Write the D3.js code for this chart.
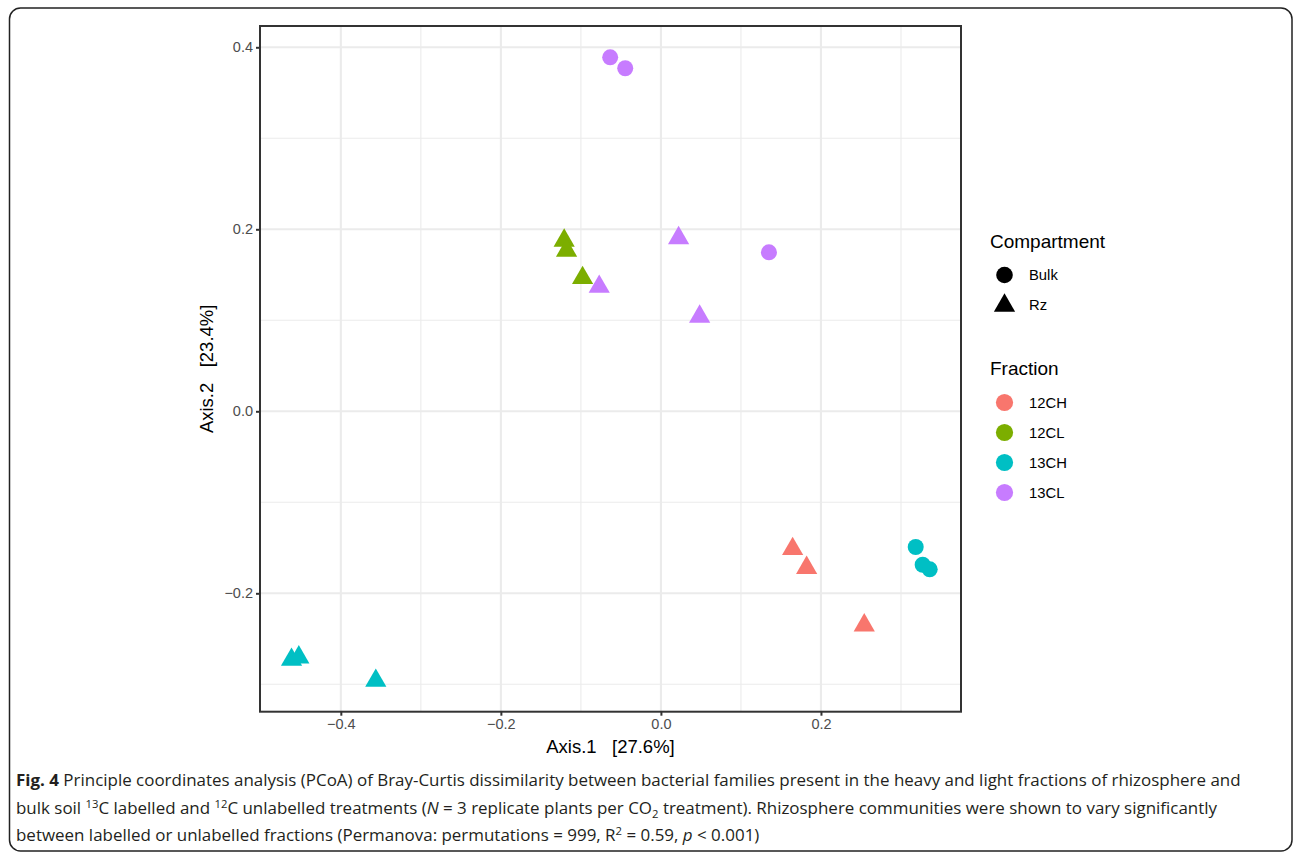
<!DOCTYPE html>
<html><head><meta charset="utf-8">
<script src="https://cdn.jsdelivr.net/npm/d3@7"></script>
<style>
html,body{margin:0;padding:0;background:#fff;}
svg{display:block;}
text{font-family:"Liberation Sans",Arial,Helvetica,sans-serif;}
</style></head>
<body>
<svg id="chart" width="1293" height="852"></svg>
<script>
// ---- data ----
const fractions = ["12CH", "12CL", "13CH", "13CL"];
const fractionColors = ["#F8766D", "#7CAE00", "#00BFC4", "#C77CFF"];
const compartments = ["Bulk", "Rz"];
const pointFraction    = ["12CH","12CH","12CH","12CL","12CL","12CL","13CH","13CH","13CH","13CH","13CH","13CH","13CL","13CL","13CL","13CL","13CL","13CL"];
const pointCompartment = ["Rz","Rz","Rz","Rz","Rz","Rz","Bulk","Bulk","Bulk","Rz","Rz","Rz","Bulk","Bulk","Bulk","Rz","Rz","Rz"];
const axis1 = [0.1646, 0.1821, 0.2541, -0.1209, -0.1179, -0.0979, 0.3184, 0.3271, 0.3359, -0.4616, -0.4525, -0.3563, -0.0634, -0.0446, 0.1350, -0.0771, 0.0221, 0.0484];
const axis2 = [-0.1512, -0.1720, -0.2352, 0.1876, 0.1766, 0.1465, -0.1491, -0.1686, -0.1736, -0.2730, -0.2704, -0.2960, 0.3890, 0.3770, 0.1747, 0.1370, 0.1904, 0.1041];
const xTicks = [-0.4, -0.2, 0.0, 0.2];
const yTicks = [-0.2, 0.0, 0.2, 0.4];
const xMinor = [-0.3, -0.1, 0.1, 0.3];
const yMinor = [-0.3, -0.1, 0.1, 0.3];
const xTitle = "Axis.1   [27.6%]";
const yTitle = "Axis.2   [23.4%]";

const svg = d3.select("#chart");

// outer rounded frame
svg.append("rect").attr("x", 9.5).attr("y", 8).attr("width", 1282.5).attr("height", 843)
  .attr("rx", 11).attr("fill", "none").attr("stroke", "#222").attr("stroke-width", 1.5);

const P = {l: 260, r: 961, t: 26, b: 711.7};
const x = d3.scaleLinear().domain([-0.501, 0.375]).range([P.l, P.r]);
const y = d3.scaleLinear().domain([0.4234, -0.3301]).range([P.t, P.b]);
const color = d3.scaleOrdinal().domain(fractions).range(fractionColors);
const fmt = d3.format(".1f");

// grid
const g = svg.append("g");
g.selectAll(".xmin").data(xMinor).join("line")
  .attr("x1", d => x(d)).attr("x2", d => x(d)).attr("y1", P.t).attr("y2", P.b)
  .attr("stroke", "#ebebeb").attr("stroke-width", 1.1);
g.selectAll(".ymin").data(yMinor).join("line")
  .attr("y1", d => y(d)).attr("y2", d => y(d)).attr("x1", P.l).attr("x2", P.r)
  .attr("stroke", "#ebebeb").attr("stroke-width", 1.1);
g.selectAll(".xmaj").data(xTicks).join("line")
  .attr("x1", d => x(d)).attr("x2", d => x(d)).attr("y1", P.t).attr("y2", P.b)
  .attr("stroke", "#ebebeb").attr("stroke-width", 2.1);
g.selectAll(".ymaj").data(yTicks).join("line")
  .attr("y1", d => y(d)).attr("y2", d => y(d)).attr("x1", P.l).attr("x2", P.r)
  .attr("stroke", "#ebebeb").attr("stroke-width", 2.1);

// points
const pts = axis1.map((v, i) => ({x: v, y: axis2[i], f: pointFraction[i], c: pointCompartment[i]}));
const tri = d3.symbol().type(d3.symbolTriangle).size(195);
const pg = svg.append("g");
pts.forEach(p => {
  if (p.c === "Bulk") {
    pg.append("circle").attr("cx", x(p.x)).attr("cy", y(p.y)).attr("r", 8).attr("fill", color(p.f));
  } else {
    pg.append("path").attr("d", tri()).attr("transform", `translate(${x(p.x)},${y(p.y)})`).attr("fill", color(p.f));
  }
});

// panel border
svg.append("rect").attr("x", P.l).attr("y", P.t).attr("width", P.r - P.l).attr("height", P.b - P.t)
  .attr("fill", "none").attr("stroke", "#333").attr("stroke-width", 2);

// axes
const xa = svg.append("g").attr("transform", `translate(0,${P.b})`)
  .call(d3.axisBottom(x).tickValues(xTicks).tickFormat(fmt).tickSize(4).tickPadding(3));
const ya = svg.append("g").attr("transform", `translate(${P.l},0)`)
  .call(d3.axisLeft(y).tickValues(yTicks).tickFormat(fmt).tickSize(4).tickPadding(3));
[xa, ya].forEach(a => {
  a.select(".domain").remove();
  a.selectAll(".tick line").attr("stroke", "#333").attr("stroke-width", 2);
  a.selectAll(".tick text").attr("fill", "#4d4d4d").style("font-size", "14.5px")
    .style("font-family", '"Liberation Sans",Arial,sans-serif');
});

// axis titles
svg.append("text").attr("x", (P.l + P.r) / 2).attr("y", 753).attr("text-anchor", "middle")
  .style("font-size", "18.5px").style("white-space", "pre").attr("fill", "#000").text(xTitle);
svg.append("text").attr("transform", `translate(213,${(P.t + P.b) / 2}) rotate(-90)`).attr("text-anchor", "middle")
  .style("font-size", "18.5px").style("white-space", "pre").attr("fill", "#000").text(yTitle);

// legends
const lg = svg.append("g");
lg.append("text").attr("x", 990).attr("y", 248).style("font-size", "19px").text("Compartment");
compartments.forEach((c, i) => {
  const cy = 275 + i * 30;
  if (c === "Bulk") lg.append("circle").attr("cx", 1004.5).attr("cy", cy).attr("r", 8.3).attr("fill", "#000");
  else lg.append("path").attr("d", tri()).attr("transform", `translate(1004.5,${cy + 0.5})`).attr("fill", "#000");
  lg.append("text").attr("x", 1029).attr("y", cy + 5.3).style("font-size", "14.8px").text(c);
});
lg.append("text").attr("x", 990).attr("y", 375).style("font-size", "19px").text("Fraction");
fractions.forEach((f, i) => {
  const cy = 402.5 + i * 30;
  lg.append("circle").attr("cx", 1004.5).attr("cy", cy).attr("r", 8.6).attr("fill", color(f));
  lg.append("text").attr("x", 1029).attr("y", cy + 5.3).style("font-size", "14.8px").text(f);
});

// caption
const capFont = '"Open Sans","Noto Sans",sans-serif';
const capLines = [
  [["b", "Fig. 4"], ["n", " Principle coordinates analysis (PCoA) of Bray-Curtis dissimilarity between bacterial families present in the heavy and light fractions of rhizosphere and"]],
  [["n", "bulk soil "], ["sup", "13"], ["n", "C labelled and "], ["sup", "12"], ["n", "C unlabelled treatments ("], ["i", "N"], ["n", " = 3 replicate plants per CO"], ["sub", "2"], ["n", " treatment). Rhizosphere communities were shown to vary significantly"]],
  [["n", "between labelled or unlabelled fractions (Permanova: permutations = 999, R"], ["sup", "2"], ["n", " = 0.59, "], ["i", "p"], ["n", " < 0.001)"]]
];
const capBase = [786, 814, 841];
const capGroups = [];
capLines.forEach((line, li) => {
  const cg = svg.append("g");
  const t = cg.append("text").attr("x", 0).attr("y", 0).style("font-family", capFont)
    .style("font-size", "16.5px").attr("fill", "#231f20").style("white-space", "pre");
  let off = 0;
  line.forEach(([k, s]) => {
    const ts = t.append("tspan").text(s);
    if (k === "b") ts.style("font-weight", "bold");
    if (k === "i") ts.style("font-style", "italic");
    if (k === "sup") { ts.style("font-size", "11px").attr("dy", -6 - off); off = -6; }
    else if (k === "sub") { ts.style("font-size", "11px").attr("dy", 4 - off); off = 4; }
    else { ts.attr("dy", -off); off = 0; }
  });
  capGroups.push({g: cg, t: t, base: capBase[li]});
});
const w0 = capGroups[0].t.node().getComputedTextLength();
const sx = (1241 - 16) / w0;
capGroups.forEach(c => c.g.attr("transform", `translate(16,${c.base}) scale(${sx},1)`));
</script>
</body></html>
